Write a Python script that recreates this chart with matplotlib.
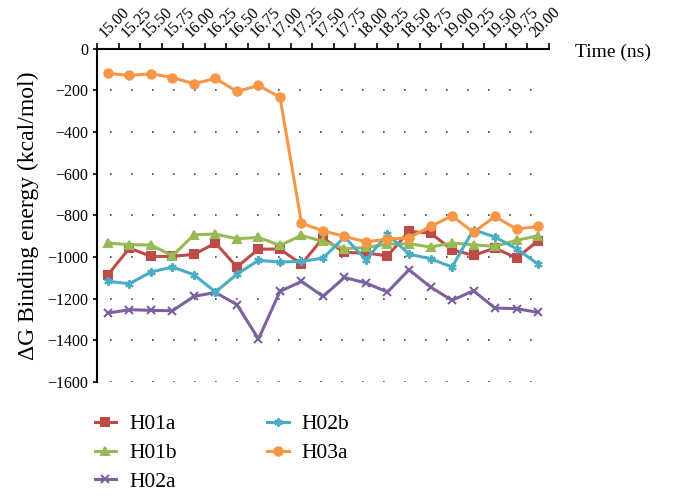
import numpy as np
import matplotlib
matplotlib.use("Agg")
import matplotlib.pyplot as plt

plt.rcParams['font.family'] = ['Liberation Serif', 'DejaVu Serif']

# time points (ns)
times = ["15.00", "15.25", "15.50", "15.75", "16.00", "16.25", "16.50", "16.75",
         "17.00", "17.25", "17.50", "17.75", "18.00", "18.25", "18.50", "18.75",
         "19.00", "19.25", "19.50", "19.75", "20.00"]

H01a = [-1085, -957, -997, -997, -987, -933, -1048, -962, -962, -1034, -909,
        -978, -981, -994, -877, -885, -965, -992, -957, -1005, -922]
H01b = [-933, -941, -942, -994, -893, -890, -912, -906, -944, -896, -925,
        -960, -954, -938, -936, -952, -933, -941, -949, -920, -898]
H02a = [-1269, -1253, -1256, -1258, -1189, -1170, -1229, -1394, -1165, -1117, -1189,
        -1098, -1125, -1168, -1061, -1144, -1208, -1162, -1245, -1248, -1266]
H02b = [-1117, -1128, -1072, -1048, -1085, -1168, -1082, -1016, -1024, -1021, -1005,
        -904, -1013, -890, -986, -1008, -1048, -869, -904, -960, -1034]
H03a = [-118, -128, -120, -138, -168, -142, -205, -176, -232, -838, -874,
        -901, -927, -914, -908, -853, -802, -882, -805, -866, -853]

yticks = list(range(0, -1601, -200))

series = [
    ("H01a", H01a, "#BE4B48", "s"),
    ("H01b", H01b, "#98B954", "^"),
    ("H02a", H02a, "#7D60A0", "x"),
    ("H02b", H02b, "#4BACC6", (6, 2, 0)),
    ("H03a", H03a, "#F79646", "o"),
]

fig = plt.figure(figsize=(6.75, 4.98), dpi=100)
ax = fig.add_axes([0.144, 0.233, 0.669, 0.669])

x = np.arange(len(times))
handles = []
for name, vals, col, mk in series:
    h, = ax.plot(x, vals, color=col, lw=2.2, marker=mk, markersize=6,
                 markeredgewidth=1.5, label=name)
    handles.append(h)

ax.set_xlim(-0.5, len(times) - 0.5)
ax.set_ylim(-1600, 0)
ax.set_yticks(yticks)
ax.yaxis.grid(True, linestyle=(4.8, (1, 11.6)), color="#444444", lw=1.2)
ax.set_axisbelow(True)

ax.xaxis.tick_top()
ax.set_xticks(x)
ax.set_xticklabels(times, rotation=45, ha="left", va="bottom",
                   rotation_mode="anchor", fontsize=11.5)
ax.tick_params(axis="x", which="major", length=0, pad=6)
ax.set_xticks(np.arange(len(times) + 1) - 0.5, minor=True)
ax.tick_params(axis="x", which="minor", length=4, width=1.2, direction="out")
ax.tick_params(axis="y", length=3, width=1.2, direction="out", labelsize=11.5)

for s in ["right", "bottom"]:
    ax.spines[s].set_visible(False)
for s in ["left", "top"]:
    ax.spines[s].set_linewidth(1.5)

ax.set_ylabel("ΔG Binding energy (kcal/mol)", fontsize=17, labelpad=6)
fig.text(0.852, 0.894, "Time (ns)", fontsize=14, ha="left", va="center")

fig.legend(handles=handles, loc="upper left", bbox_to_anchor=(0.14, 0.168),
           ncol=2, frameon=False, fontsize=15.5, handlelength=1.0,
           handletextpad=0.6, columnspacing=4.2, labelspacing=0.4,
           borderpad=0, borderaxespad=0)

fig.savefig("out.png", dpi=100)
